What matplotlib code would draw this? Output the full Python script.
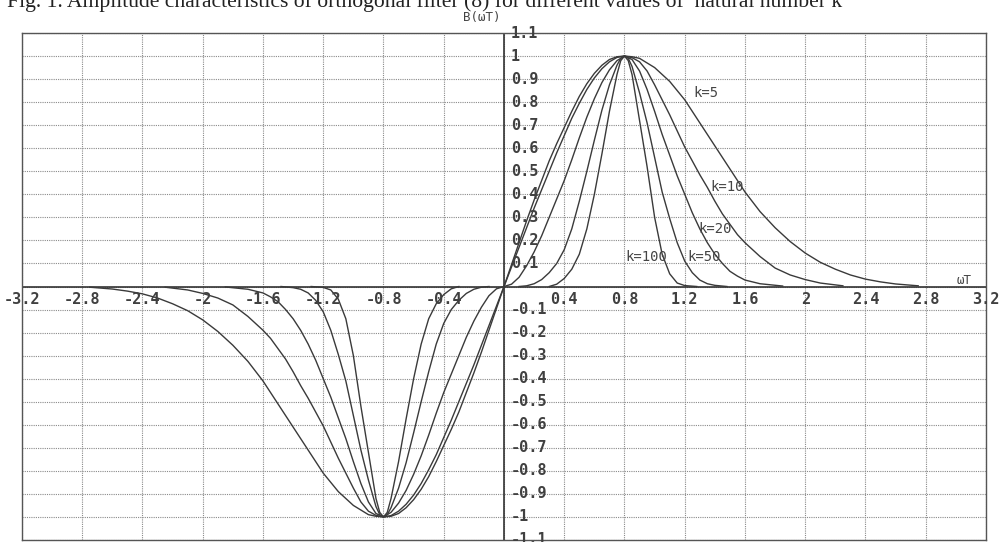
import numpy as np
import matplotlib
matplotlib.use("Agg")
import matplotlib.pyplot as plt
from matplotlib.transforms import offset_copy

# positive half of each curve (the negative half is the odd mirror image)
x_k5 = [0, 0.05, 0.1, 0.15, 0.2, 0.25, 0.3, 0.35, 0.4, 0.45, 0.5, 0.55, 0.6, 0.65, 0.7, 0.75, 0.8,
        0.85, 0.9, 1.0, 1.1, 1.2, 1.3, 1.4, 1.5, 1.6, 1.7, 1.8, 1.9, 2.0, 2.1, 2.2, 2.3, 2.4, 2.5, 2.6, 2.75]
y_k5 = [0, 0.095, 0.19, 0.285, 0.375, 0.46, 0.545, 0.62, 0.69, 0.76, 0.825, 0.88, 0.925, 0.96, 0.985, 0.997, 1.0,
        0.997, 0.99, 0.95, 0.89, 0.81, 0.71, 0.61, 0.51, 0.41, 0.325, 0.255, 0.195, 0.145, 0.105, 0.075, 0.05, 0.032, 0.02, 0.011, 0.003]

x_k10 = [0, 0.05, 0.1, 0.15, 0.2, 0.25, 0.3, 0.35, 0.4, 0.45, 0.5, 0.55, 0.6, 0.65, 0.7, 0.75, 0.8,
         0.85, 0.9, 0.95, 1.0, 1.05, 1.1, 1.15, 1.2, 1.25, 1.3, 1.35, 1.4, 1.45, 1.5, 1.55, 1.6, 1.7, 1.8, 1.9, 2.0, 2.1, 2.25]
y_k10 = [0, 0.085, 0.17, 0.255, 0.34, 0.42, 0.5, 0.58, 0.655, 0.73, 0.795, 0.855, 0.905, 0.945, 0.975, 0.994, 1.0,
         0.993, 0.975, 0.935, 0.875, 0.81, 0.745, 0.675, 0.605, 0.545, 0.485, 0.43, 0.37, 0.315, 0.27, 0.225, 0.19, 0.13, 0.08, 0.05, 0.03, 0.015, 0.003]

x_k20 = [0, 0.05, 0.1, 0.15, 0.2, 0.25, 0.3, 0.35, 0.4, 0.45, 0.5, 0.55, 0.6, 0.65, 0.7, 0.75, 0.8,
         0.85, 0.9, 0.95, 1.0, 1.05, 1.1, 1.15, 1.2, 1.25, 1.3, 1.35, 1.4, 1.45, 1.5, 1.55, 1.6, 1.7, 1.85]
y_k20 = [0, 0.01, 0.04, 0.09, 0.15, 0.22, 0.3, 0.38, 0.46, 0.55, 0.645, 0.735, 0.815, 0.885, 0.94, 0.98, 1.0,
         0.985, 0.935, 0.855, 0.76, 0.66, 0.57, 0.48, 0.4, 0.32, 0.25, 0.19, 0.14, 0.1, 0.066, 0.045, 0.028, 0.012, 0.002]

x_k50 = [0.1, 0.15, 0.2, 0.25, 0.3, 0.35, 0.4, 0.45, 0.5, 0.55, 0.6, 0.65, 0.7, 0.75, 0.775, 0.8,
         0.825, 0.85, 0.9, 0.95, 1.0, 1.05, 1.1, 1.15, 1.2, 1.25, 1.3, 1.35, 1.4, 1.48]
y_k50 = [0, 0.003, 0.012, 0.03, 0.06, 0.1, 0.16, 0.25, 0.37, 0.5, 0.635, 0.765, 0.875, 0.96, 0.99, 1.0,
         0.99, 0.955, 0.84, 0.71, 0.56, 0.41, 0.295, 0.19, 0.11, 0.06, 0.028, 0.012, 0.005, 0.0]

x_k100 = [0.3, 0.35, 0.4, 0.45, 0.5, 0.55, 0.6, 0.65, 0.7, 0.75, 0.775, 0.8,
          0.825, 0.85, 0.9, 0.95, 1.0, 1.05, 1.1, 1.15, 1.2, 1.28]
y_k100 = [0, 0.01, 0.035, 0.075, 0.14, 0.25, 0.4, 0.575, 0.76, 0.92, 0.98, 1.0,
          0.98, 0.92, 0.72, 0.52, 0.3, 0.14, 0.055, 0.015, 0.004, 0.0]

curves = [(x_k5, y_k5), (x_k10, y_k10), (x_k20, y_k20), (x_k50, y_k50), (x_k100, y_k100)]

x_ticks = [-3.2, -2.8, -2.4, -2.0, -1.6, -1.2, -0.8, -0.4, 0.4, 0.8, 1.2, 1.6, 2.0, 2.4, 2.8, 3.2]
x_tick_labels = ["-3.2", "-2.8", "-2.4", "-2", "-1.6", "-1.2", "-0.8", "-0.4",
                 "0.4", "0.8", "1.2", "1.6", "2", "2.4", "2.8", "3.2"]
y_ticks = [1.1, 1.0, 0.9, 0.8, 0.7, 0.6, 0.5, 0.4, 0.3, 0.2, 0.1,
           -0.1, -0.2, -0.3, -0.4, -0.5, -0.6, -0.7, -0.8, -0.9, -1.0, -1.1]
y_tick_labels = ["1.1", "1", "0.9", "0.8", "0.7", "0.6", "0.5", "0.4", "0.3", "0.2", "0.1",
                 "-0.1", "-0.2", "-0.3", "-0.4", "-0.5", "-0.6", "-0.7", "-0.8", "-0.9", "-1", "-1.1"]

curve_labels = ["k=5", "k=10", "k=20", "k=50", "k=100"]

W, H = 999, 542
fig = plt.figure(figsize=(W / 100, H / 100), dpi=100)
ax = fig.add_axes([22 / W, 2 / H, (986 - 22) / W, (540 - 33) / H])
ax.set_xlim(-3.2, 3.2)
ax.set_ylim(-1.1, 1.1)

# grid
ax.set_xticks(np.arange(-3.2, 3.21, 0.4))
ax.set_yticks(np.arange(-1.1, 1.11, 0.1))
ax.tick_params(length=0, labelbottom=False, labelleft=False)
ax.grid(True, color="#8a8a8a", linewidth=0.8, linestyle=(0, (1, 1)))
for s in ax.spines.values():
    s.set_color("#555555")
    s.set_linewidth(1.0)

ax.axhline(0, color="#333333", linewidth=1.2)
ax.axvline(0, color="#333333", linewidth=1.2)

line_color = "#3a3a3a"
for xs, ys in curves:
    xs = np.array(xs)
    ys = np.array(ys)
    ax.plot(xs, ys, color=line_color, linewidth=1.0)
    ax.plot(-xs, -ys, color=line_color, linewidth=1.0)

# tick labels sitting on the axes through the origin
mono = "DejaVu Sans Mono"
below = offset_copy(ax.transData, fig=fig, x=0, y=-13, units="dots")
for xv, lab in zip(x_ticks, x_tick_labels):
    ax.text(xv, 0, lab, transform=below, ha="center", va="center", family=mono,
            fontsize=11, fontweight="bold", color="#404040")
right = offset_copy(ax.transData, fig=fig, x=7, y=0, units="dots")
for yv, lab in zip(y_ticks, y_tick_labels):
    ax.text(0, yv, lab, transform=right, ha="left", va="center", family=mono,
            fontsize=11, fontweight="bold", color="#404040")

# curve labels
lab_pos = [(1.26, 0.84), (1.37, 0.43), (1.29, 0.25), (1.215, 0.127), (0.805, 0.127)]
for (lx, ly), lab in zip(lab_pos, curve_labels):
    ax.text(lx, ly, lab, ha="left", va="center", family=mono, fontsize=10,
            color="#444444")

fig.text(482 / W, 1 - 17 / H, "B(\u03c9T)", ha="center", va="center", family=mono,
         fontsize=9, color="#444444")
fig.text(964 / W, 1 - 281 / H, "\u03c9T", ha="center", va="center", family=mono,
         fontsize=9, color="#444444")

# title, cut off at the top edge like the scan
fig.text(7 / W, 1 - 7 / H, "Fig. 1. Amplitude characteristics of orthogonal filter (8) for different values of  natural number k",
         ha="left", va="baseline", family="Liberation Serif", fontsize=15.6, color="#222222")

fig.savefig("out.png", dpi=100)
